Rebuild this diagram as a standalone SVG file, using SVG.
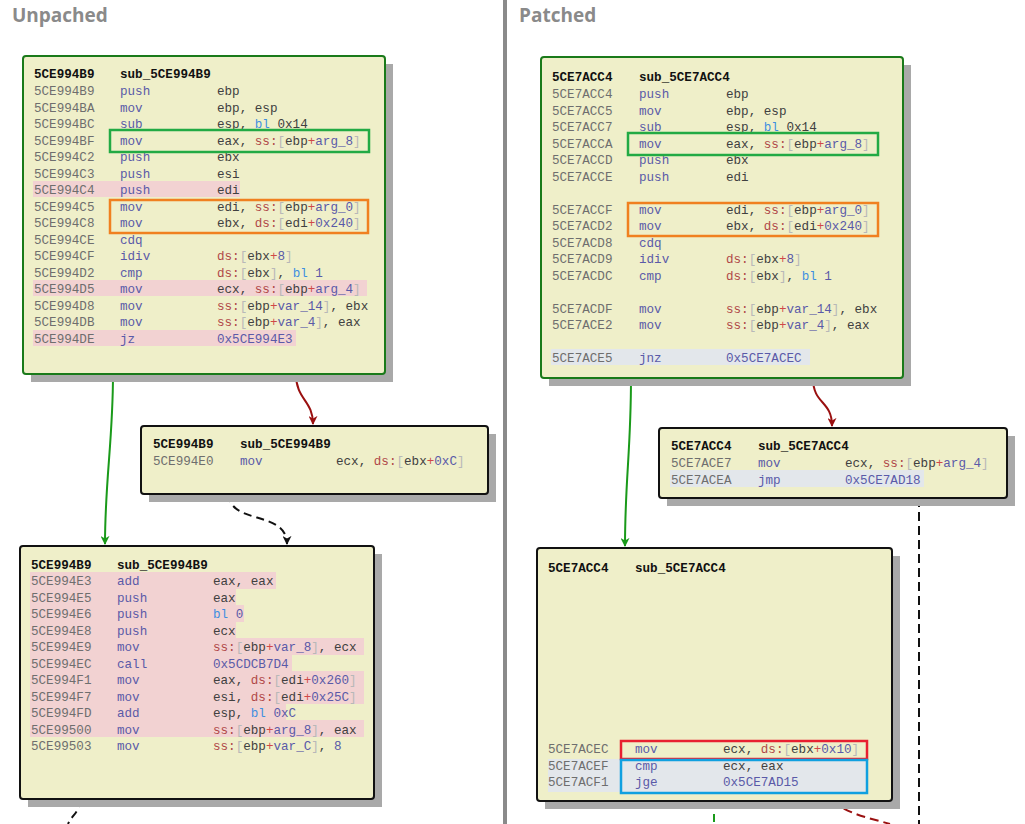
<svg xmlns="http://www.w3.org/2000/svg" width="1025" height="824" viewBox="0 0 1025 824" font-family="Liberation Mono, DejaVu Sans Mono, monospace">
<style>
text, tspan{font-family:'Liberation Mono','DejaVu Sans Mono','Courier New',monospace;font-size:12.6px}
text{fill:#404040}
.t{font-weight:bold;fill:#111}
.a{fill:#6e6e6e}.m{fill:#5a5aa8}.s{fill:#b04848}.b{fill:#b8b8b8}.p{fill:#d04848}.n{fill:#5a5aa8}.k{fill:#3f8fe0}
text.hd{font-family:'Open Sans','Liberation Sans',sans-serif;font-size:19px;font-weight:bold;fill:#8a8a8a}
.box{fill:#efefc9;stroke:#111;stroke-width:2}
.gbox{fill:#efefc9;stroke:#1a7a1a;stroke-width:2}
.sh{fill:#a9a9a9}
.pk{fill:#f2d2d2}.bg{fill:#e3e7eb}
.hl{fill:none;stroke-width:2.5}
</style>
<defs>
<marker id="ag" viewBox="0 0 10 10" refX="9" refY="5" markerWidth="9" markerHeight="9" markerUnits="userSpaceOnUse" orient="auto"><path d="M0,0 L10,5 L0,10 L3,5 z" fill="#1a9a1a"/></marker>
<marker id="ar" viewBox="0 0 10 10" refX="9" refY="5" markerWidth="9" markerHeight="9" markerUnits="userSpaceOnUse" orient="auto"><path d="M0,0 L10,5 L0,10 L3,5 z" fill="#9a1010"/></marker>
<marker id="ak" viewBox="0 0 10 10" refX="9" refY="5" markerWidth="9" markerHeight="9" markerUnits="userSpaceOnUse" orient="auto"><path d="M0,0 L10,5 L0,10 L3,5 z" fill="#111"/></marker>
</defs>
<rect width="1025" height="824" fill="#fff"/>
<rect x="503" y="0" width="4" height="824" fill="#8a8a8a"/>
<text class="hd" x="12" y="22">Unpached</text>
<text class="hd" x="519" y="22">Patched</text>

<g id="connectors" fill="none" stroke-width="2">
<path d="M113,374 C113,440 105,480 105,544" stroke="#1a9a1a" marker-end="url(#ag)"/>
<path d="M296,374 C296,400 313,400 313,424" stroke="#9a1010" marker-end="url(#ar)"/>
<path d="M229,494 C229,525 287,510 287,544" stroke="#111" stroke-dasharray="8,5" marker-end="url(#ak)"/>
<path d="M80,799 C80,812 72,815 68,824" stroke="#111" stroke-dasharray="8,5"/>
<path d="M631,378 C631,450 625,480 625,546" stroke="#1a9a1a" marker-end="url(#ag)"/>
<path d="M813,378 C813,405 832,400 832,426" stroke="#9a1010" marker-end="url(#ar)"/>
<path d="M919,498 L919,824" stroke="#111" stroke-dasharray="9,5"/>
<path d="M832,801 C850,815 870,818 890,824" stroke="#9a1010" stroke-dasharray="9,5"/>
<path d="M714,801 L714,824" stroke="#1a9a1a" stroke-dasharray="8,5"/>
</g>

<g id="nodeL1">
<rect class="sh" x="31" y="64" width="362" height="318"/>
<rect class="gbox" x="23" y="56" width="362" height="318" rx="3"/>
<rect class="pk" x="33" y="181" width="207" height="16"/>
<rect class="pk" x="33" y="280" width="334" height="16"/>
<rect class="pk" x="33" y="330" width="263" height="16"/>
<text class="t" x="34" y="78">5CE994B9</text><text class="t" x="120" y="78">sub_5CE994B9</text>
<text x="34" y="95"><tspan class="a">5CE994B9</tspan><tspan class="m" x="120">push</tspan><tspan x="217">ebp</tspan></text>
<text x="34" y="111.5"><tspan class="a">5CE994BA</tspan><tspan class="m" x="120">mov</tspan><tspan x="217">ebp, esp</tspan></text>
<text x="34" y="128"><tspan class="a">5CE994BC</tspan><tspan class="m" x="120">sub</tspan><tspan x="217">esp, <tspan class="k">bl</tspan> 0x14</tspan></text>
<text x="34" y="144.5"><tspan class="a">5CE994BF</tspan><tspan class="m" x="120">mov</tspan><tspan x="217">eax, <tspan class="s">ss:</tspan><tspan class="b">[</tspan>ebp<tspan class="p">+</tspan><tspan class="n">arg_8</tspan><tspan class="b">]</tspan></tspan></text>
<text x="34" y="161"><tspan class="a">5CE994C2</tspan><tspan class="m" x="120">push</tspan><tspan x="217">ebx</tspan></text>
<text x="34" y="177.5"><tspan class="a">5CE994C3</tspan><tspan class="m" x="120">push</tspan><tspan x="217">esi</tspan></text>
<text x="34" y="194"><tspan class="a">5CE994C4</tspan><tspan class="m" x="120">push</tspan><tspan x="217">edi</tspan></text>
<text x="34" y="210.5"><tspan class="a">5CE994C5</tspan><tspan class="m" x="120">mov</tspan><tspan x="217">edi, <tspan class="s">ss:</tspan><tspan class="b">[</tspan>ebp<tspan class="p">+</tspan><tspan class="n">arg_0</tspan><tspan class="b">]</tspan></tspan></text>
<text x="34" y="227"><tspan class="a">5CE994C8</tspan><tspan class="m" x="120">mov</tspan><tspan x="217">ebx, <tspan class="s">ds:</tspan><tspan class="b">[</tspan>edi<tspan class="p">+</tspan><tspan class="n">0x240</tspan><tspan class="b">]</tspan></tspan></text>
<text x="34" y="243.5"><tspan class="a">5CE994CE</tspan><tspan class="m" x="120">cdq</tspan></text>
<text x="34" y="260"><tspan class="a">5CE994CF</tspan><tspan class="m" x="120">idiv</tspan><tspan x="217"><tspan class="s">ds:</tspan><tspan class="b">[</tspan>ebx<tspan class="p">+</tspan><tspan class="n">8</tspan><tspan class="b">]</tspan></tspan></text>
<text x="34" y="276.5"><tspan class="a">5CE994D2</tspan><tspan class="m" x="120">cmp</tspan><tspan x="217"><tspan class="s">ds:</tspan><tspan class="b">[</tspan>ebx<tspan class="b">]</tspan>, <tspan class="k">bl</tspan> <tspan class="n">1</tspan></tspan></text>
<text x="34" y="293"><tspan class="a">5CE994D5</tspan><tspan class="m" x="120">mov</tspan><tspan x="217">ecx, <tspan class="s">ss:</tspan><tspan class="b">[</tspan>ebp<tspan class="p">+</tspan><tspan class="n">arg_4</tspan><tspan class="b">]</tspan></tspan></text>
<text x="34" y="309.5"><tspan class="a">5CE994D8</tspan><tspan class="m" x="120">mov</tspan><tspan x="217"><tspan class="s">ss:</tspan><tspan class="b">[</tspan>ebp<tspan class="p">+</tspan><tspan class="n">var_14</tspan><tspan class="b">]</tspan>, ebx</tspan></text>
<text x="34" y="326"><tspan class="a">5CE994DB</tspan><tspan class="m" x="120">mov</tspan><tspan x="217"><tspan class="s">ss:</tspan><tspan class="b">[</tspan>ebp<tspan class="p">+</tspan><tspan class="n">var_4</tspan><tspan class="b">]</tspan>, eax</tspan></text>
<text x="34" y="342.5"><tspan class="a">5CE994DE</tspan><tspan class="m" x="120">jz</tspan><tspan class="n" x="217">0x5CE994E3</tspan></text>
<rect class="hl" stroke="#22aa44" x="110" y="130" width="259" height="22"/>
<rect class="hl" stroke="#f08020" x="110" y="200" width="258" height="33"/>
</g>

<g id="nodeL2">
<rect class="sh" x="149" y="434" width="347" height="68"/>
<rect class="box" x="141" y="426" width="347" height="68" rx="3"/>
<text class="t" x="153" y="448">5CE994B9</text><text class="t" x="240" y="448">sub_5CE994B9</text>
<text x="153" y="465"><tspan class="a">5CE994E0</tspan><tspan class="m" x="240">mov</tspan><tspan x="336">ecx, <tspan class="s">ds:</tspan><tspan class="b">[</tspan>ebx<tspan class="p">+</tspan><tspan class="n">0xC</tspan><tspan class="b">]</tspan></tspan></text>
</g>

<g id="nodeL3">
<rect class="sh" x="28" y="554" width="354" height="253"/>
<rect class="box" x="20" y="546" width="354" height="253" rx="3"/>
<rect class="pk" x="30" y="572" width="246" height="17"/>
<rect class="pk" x="30" y="589" width="206" height="16"/>
<rect class="pk" x="30" y="605" width="214" height="17"/>
<rect class="pk" x="30" y="622" width="206" height="16"/>
<rect class="pk" x="30" y="638" width="334" height="17"/>
<rect class="pk" x="30" y="655" width="262" height="16"/>
<rect class="pk" x="30" y="671" width="334" height="33"/>
<rect class="pk" x="30" y="704" width="256" height="16"/>
<rect class="pk" x="30" y="720" width="334" height="17"/>
<text class="t" x="31" y="569">5CE994B9</text><text class="t" x="117" y="569">sub_5CE994B9</text>
<text x="31" y="585"><tspan class="a">5CE994E3</tspan><tspan class="m" x="117">add</tspan><tspan x="213">eax, eax</tspan></text>
<text x="31" y="601.5"><tspan class="a">5CE994E5</tspan><tspan class="m" x="117">push</tspan><tspan x="213">eax</tspan></text>
<text x="31" y="618"><tspan class="a">5CE994E6</tspan><tspan class="m" x="117">push</tspan><tspan x="213"><tspan class="k">bl</tspan> <tspan class="n">0</tspan></tspan></text>
<text x="31" y="634.5"><tspan class="a">5CE994E8</tspan><tspan class="m" x="117">push</tspan><tspan x="213">ecx</tspan></text>
<text x="31" y="651"><tspan class="a">5CE994E9</tspan><tspan class="m" x="117">mov</tspan><tspan x="213"><tspan class="s">ss:</tspan><tspan class="b">[</tspan>ebp<tspan class="p">+</tspan><tspan class="n">var_8</tspan><tspan class="b">]</tspan>, ecx</tspan></text>
<text x="31" y="667.5"><tspan class="a">5CE994EC</tspan><tspan class="m" x="117">call</tspan><tspan class="n" x="213">0x5CDCB7D4</tspan></text>
<text x="31" y="684"><tspan class="a">5CE994F1</tspan><tspan class="m" x="117">mov</tspan><tspan x="213">eax, <tspan class="s">ds:</tspan><tspan class="b">[</tspan>edi<tspan class="p">+</tspan><tspan class="n">0x260</tspan><tspan class="b">]</tspan></tspan></text>
<text x="31" y="700.5"><tspan class="a">5CE994F7</tspan><tspan class="m" x="117">mov</tspan><tspan x="213">esi, <tspan class="s">ds:</tspan><tspan class="b">[</tspan>edi<tspan class="p">+</tspan><tspan class="n">0x25C</tspan><tspan class="b">]</tspan></tspan></text>
<text x="31" y="717"><tspan class="a">5CE994FD</tspan><tspan class="m" x="117">add</tspan><tspan x="213">esp, <tspan class="k">bl</tspan> <tspan class="n">0xC</tspan></tspan></text>
<text x="31" y="733.5"><tspan class="a">5CE99500</tspan><tspan class="m" x="117">mov</tspan><tspan x="213"><tspan class="s">ss:</tspan><tspan class="b">[</tspan>ebp<tspan class="p">+</tspan><tspan class="n">arg_8</tspan><tspan class="b">]</tspan>, eax</tspan></text>
<text x="31" y="750"><tspan class="a">5CE99503</tspan><tspan class="m" x="117">mov</tspan><tspan x="213"><tspan class="s">ss:</tspan><tspan class="b">[</tspan>ebp<tspan class="p">+</tspan><tspan class="n">var_C</tspan><tspan class="b">]</tspan>, <tspan class="n">8</tspan></tspan></text>
</g>

<g id="nodeR1">
<rect class="sh" x="549" y="65" width="362" height="321"/>
<rect class="gbox" x="541" y="57" width="362" height="321" rx="3"/>
<rect class="bg" x="551" y="349" width="259" height="16"/>
<text class="t" x="552" y="81">5CE7ACC4</text><text class="t" x="639" y="81">sub_5CE7ACC4</text>
<text x="552" y="98"><tspan class="a">5CE7ACC4</tspan><tspan class="m" x="639">push</tspan><tspan x="726">ebp</tspan></text>
<text x="552" y="114.5"><tspan class="a">5CE7ACC5</tspan><tspan class="m" x="639">mov</tspan><tspan x="726">ebp, esp</tspan></text>
<text x="552" y="131"><tspan class="a">5CE7ACC7</tspan><tspan class="m" x="639">sub</tspan><tspan x="726">esp, <tspan class="k">bl</tspan> 0x14</tspan></text>
<text x="552" y="147.5"><tspan class="a">5CE7ACCA</tspan><tspan class="m" x="639">mov</tspan><tspan x="726">eax, <tspan class="s">ss:</tspan><tspan class="b">[</tspan>ebp<tspan class="p">+</tspan><tspan class="n">arg_8</tspan><tspan class="b">]</tspan></tspan></text>
<text x="552" y="164"><tspan class="a">5CE7ACCD</tspan><tspan class="m" x="639">push</tspan><tspan x="726">ebx</tspan></text>
<text x="552" y="180.5"><tspan class="a">5CE7ACCE</tspan><tspan class="m" x="639">push</tspan><tspan x="726">edi</tspan></text>
<text x="552" y="213.5"><tspan class="a">5CE7ACCF</tspan><tspan class="m" x="639">mov</tspan><tspan x="726">edi, <tspan class="s">ss:</tspan><tspan class="b">[</tspan>ebp<tspan class="p">+</tspan><tspan class="n">arg_0</tspan><tspan class="b">]</tspan></tspan></text>
<text x="552" y="230"><tspan class="a">5CE7ACD2</tspan><tspan class="m" x="639">mov</tspan><tspan x="726">ebx, <tspan class="s">ds:</tspan><tspan class="b">[</tspan>edi<tspan class="p">+</tspan><tspan class="n">0x240</tspan><tspan class="b">]</tspan></tspan></text>
<text x="552" y="246.5"><tspan class="a">5CE7ACD8</tspan><tspan class="m" x="639">cdq</tspan></text>
<text x="552" y="263"><tspan class="a">5CE7ACD9</tspan><tspan class="m" x="639">idiv</tspan><tspan x="726"><tspan class="s">ds:</tspan><tspan class="b">[</tspan>ebx<tspan class="p">+</tspan><tspan class="n">8</tspan><tspan class="b">]</tspan></tspan></text>
<text x="552" y="279.5"><tspan class="a">5CE7ACDC</tspan><tspan class="m" x="639">cmp</tspan><tspan x="726"><tspan class="s">ds:</tspan><tspan class="b">[</tspan>ebx<tspan class="b">]</tspan>, <tspan class="k">bl</tspan> <tspan class="n">1</tspan></tspan></text>
<text x="552" y="312.5"><tspan class="a">5CE7ACDF</tspan><tspan class="m" x="639">mov</tspan><tspan x="726"><tspan class="s">ss:</tspan><tspan class="b">[</tspan>ebp<tspan class="p">+</tspan><tspan class="n">var_14</tspan><tspan class="b">]</tspan>, ebx</tspan></text>
<text x="552" y="329"><tspan class="a">5CE7ACE2</tspan><tspan class="m" x="639">mov</tspan><tspan x="726"><tspan class="s">ss:</tspan><tspan class="b">[</tspan>ebp<tspan class="p">+</tspan><tspan class="n">var_4</tspan><tspan class="b">]</tspan>, eax</tspan></text>
<text x="552" y="362"><tspan class="a">5CE7ACE5</tspan><tspan class="m" x="639">jnz</tspan><tspan class="n" x="726">0x5CE7ACEC</tspan></text>
<rect class="hl" stroke="#22aa44" x="628" y="133" width="250" height="22"/>
<rect class="hl" stroke="#f08020" x="628" y="203" width="250" height="33"/>
</g>

<g id="nodeR2">
<rect class="sh" x="667" y="436" width="348" height="70"/>
<rect class="box" x="659" y="428" width="348" height="70" rx="3"/>
<rect class="bg" x="670" y="470" width="254" height="17"/>
<text class="t" x="671" y="450">5CE7ACC4</text><text class="t" x="758" y="450">sub_5CE7ACC4</text>
<text x="671" y="467"><tspan class="a">5CE7ACE7</tspan><tspan class="m" x="758">mov</tspan><tspan x="845">ecx, <tspan class="s">ss:</tspan><tspan class="b">[</tspan>ebp<tspan class="p">+</tspan><tspan class="n">arg_4</tspan><tspan class="b">]</tspan></tspan></text>
<text x="671" y="483.5"><tspan class="a">5CE7ACEA</tspan><tspan class="m" x="758">jmp</tspan><tspan class="n" x="845">0x5CE7AD18</tspan></text>
</g>

<g id="nodeR3">
<rect class="sh" x="545" y="556" width="355" height="253"/>
<rect class="box" x="537" y="548" width="355" height="253" rx="3"/>
<rect class="bg" x="548" y="759" width="74" height="33"/>
<rect class="bg" x="622" y="759" width="246" height="33"/>
<text class="t" x="548" y="572">5CE7ACC4</text><text class="t" x="635" y="572">sub_5CE7ACC4</text>
<text x="548" y="753"><tspan class="a">5CE7ACEC</tspan><tspan class="m" x="635">mov</tspan><tspan x="723">ecx, <tspan class="s">ds:</tspan><tspan class="b">[</tspan>ebx<tspan class="p">+</tspan><tspan class="n">0x10</tspan><tspan class="b">]</tspan></tspan></text>
<text x="548" y="770"><tspan class="a">5CE7ACEF</tspan><tspan class="m" x="635">cmp</tspan><tspan x="723">ecx, eax</tspan></text>
<text x="548" y="786"><tspan class="a">5CE7ACF1</tspan><tspan class="m" x="635">jge</tspan><tspan class="n" x="723">0x5CE7AD15</tspan></text>
<rect class="hl" stroke="#e82030" x="621" y="741" width="246" height="18"/>
<rect class="hl" stroke="#10a0e0" x="621" y="760" width="246" height="33"/>
</g>
</svg>
